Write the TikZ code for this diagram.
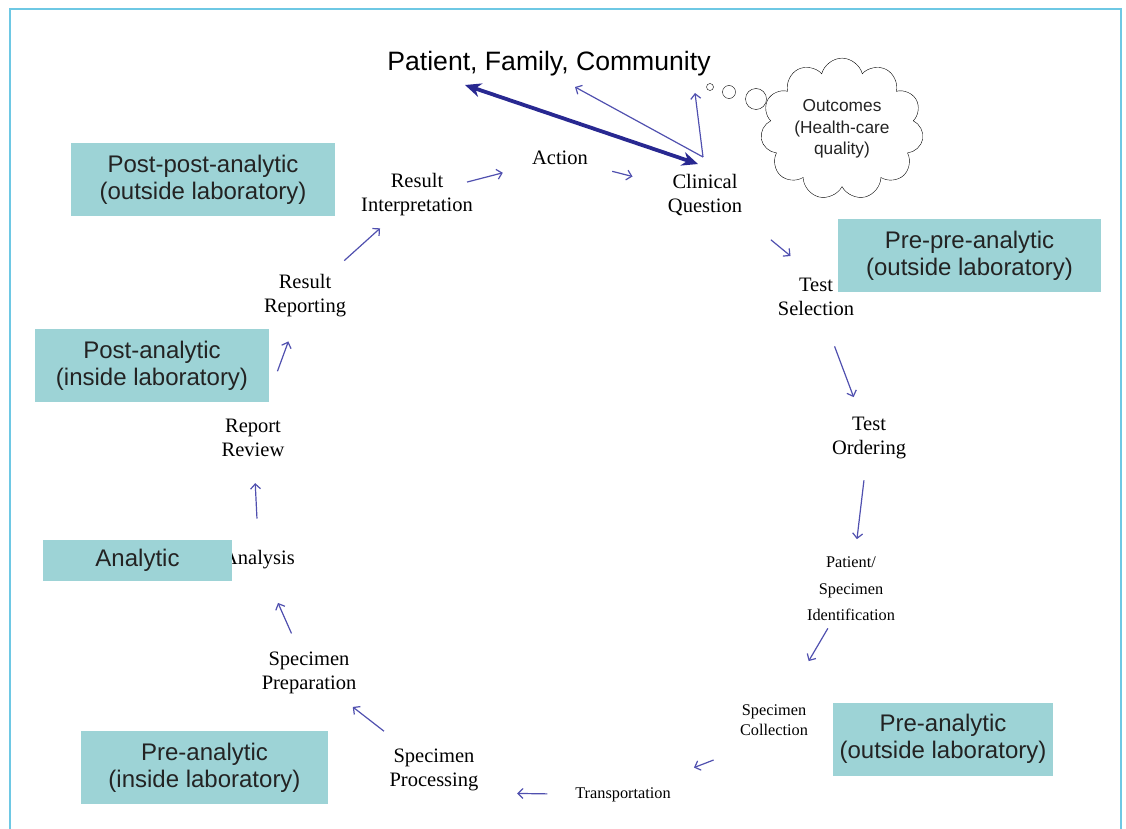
\documentclass[tikz,border=0pt]{standalone}
\usepackage{fontspec}
\setmainfont{Liberation Serif}
\newfontfamily\boxfont{Liberation Sans}
\usepackage{tikz}
\usetikzlibrary{calc,shapes.symbols,arrows.meta}

\definecolor{boxfill}{RGB}{157,211,214}
\definecolor{boxtext}{RGB}{35,35,35}
\definecolor{framecol}{RGB}{110,200,228}
\definecolor{flowblue}{RGB}{80,80,175}
\definecolor{darkflow}{RGB}{40,40,145}

\begin{document}
\begin{tikzpicture}[x=1pt, y=-1pt,
    steplbl/.style={align=center, inner sep=1pt, font=\fontsize{20.5}{24}\selectfont},
    smalllbl/.style={align=center, inner sep=1pt, font=\fontsize{16.3}{20}\selectfont},
    phase/.style={fill=boxfill, text=boxtext, align=center, inner sep=0pt,
        minimum height=73, font=\boxfont\fontsize{24}{27}\selectfont},
    flow/.style={-{Straight Barb[length=5pt,width=10pt]}, line width=1.2pt, flowblue},
    bigflow/.style={{Stealth[length=16pt,width=14pt]}-{Stealth[length=16pt,width=14pt]}, line width=3.8pt, darkflow}]
    \useasboundingbox (0,0) rectangle (1126,829);

    % frame
    \draw[framecol, line width=2pt] (10,829) -- (10,9) -- (1121,9) -- (1121,829);

    % top
    \node[anchor=base, font=\boxfont\fontsize{26.6}{30}\selectfont] (pfc) at (549,71) {Patient, Family, Community};
    \node[cloud, draw, cloud puffs=11, aspect=1.25, minimum width=152, minimum height=120,
          align=center, font=\boxfont\fontsize{17.3}{21.5}\selectfont, text=boxtext] (outc) at (842,129)
          {Outcomes\\(Health-care\\quality)};
    \node[circle, draw, minimum size=7, inner sep=0pt] (bub1) at (710,87) {};
    \node[circle, draw, minimum size=13, inner sep=0pt] (bub2) at (729,92) {};
    \node[circle, draw, minimum size=21, inner sep=0pt] (bub3) at (756,99) {};

    % steps of the cycle
    \node[steplbl] (clin) at (705,195) {Clinical\\Question};
    \node[steplbl] (sel) at (816,297) {Test\\Selection};
    \node[steplbl] (ord) at (869,438) {Test\\Ordering};
    \node[smalllbl, font=\fontsize{16.3}{26.5}\selectfont] (patid) at (851,589) {Patient/\\Specimen\\Identification};
    \node[smalllbl] (coll) at (774,720) {Specimen\\Collection};
    \node[smalllbl] (trans) at (623,795) {Transportation};
    \node[steplbl] (proc) at (434,770) {Specimen\\Processing};
    \node[steplbl] (prep) at (309,673) {Specimen\\Preparation};
    \node[steplbl] (anal) at (259,560) {Analysis};
    \node[steplbl] (rev) at (253,438) {Report\\Review};
    \node[steplbl] (rep) at (305,296) {Result\\Reporting};
    \node[steplbl] (interp) at (417,195) {Result\\Interpretation};
    \node[steplbl] (action) at (560,158) {Action};

    % phases
    \node[phase, minimum width=264] (postpost) at (203,179.5) {Post-post-analytic\\(outside laboratory)};
    \node[phase, minimum width=234] (postin) at (152,365.5) {Post-analytic\\(inside laboratory)};
    \node[phase, minimum width=189, minimum height=41] (analytic) at (137.5,560.5) {Analytic};
    \node[phase, minimum width=247] (prein) at (204.5,767.5) {Pre-analytic\\(inside laboratory)};
    \node[phase, minimum width=220] (preout) at (943,739) {Pre-analytic\\(outside laboratory)};
    \node[phase, minimum width=263] (prepre) at (969.5,255.5) {Pre-pre-analytic\\(outside laboratory)};

    % arrows round the cycle
    \foreach \a/\b/\s/\e in {interp/action/0.35/0.6, action/clin/0.36/0.5,
        clin.south east/sel.north/0.38/0.65, sel/ord/0.35/0.71, ord/patid/0.28/0.67,
        patid/coll/0.3/0.55, coll.south/trans/0.4/0.53, trans/proc.south/0.4/0.56,
        proc/prep/0.4/0.65, prep/anal/0.35/0.62, anal/rev/0.34/0.63,
        rev/rep/0.47/0.68, rep/interp/0.35/0.67}
        \draw[flow] ($(\a)!\s!(\b)$) -- ($(\a)!\e!(\b)$);

    % arrows to the patient
    \coordinate (pfc-a) at (465,85);
    \coordinate (pfc-b) at (575,87);
    \coordinate (pfc-c) at (695,93);
    \coordinate (clin-top) at (703,157);
    \draw[bigflow] (pfc-a) -- ([xshift=-7pt, yshift=9pt]clin.north);
    \draw[flow] (clin-top) -- (pfc-b);
    \draw[flow] (clin-top) -- (pfc-c);
\end{tikzpicture}
\end{document}
